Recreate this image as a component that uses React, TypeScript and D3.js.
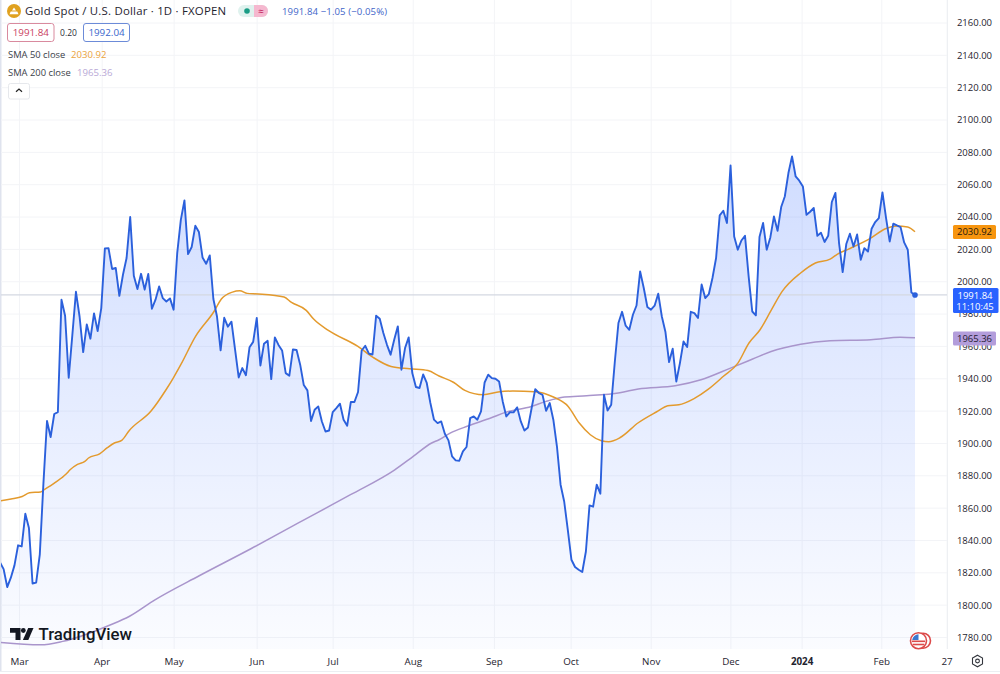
import React from "react";
import * as d3 from "d3";

const closes = [
1826.4,1822.3,1811.2,1817,1824.6,1837,1836.3,1856.5,1847.7,1813.4,1813.9,1831.2,1875,1913.9,1904,1918.2,1919.4,
1988.9,1979,1940.6,1967,1993.8,1978.5,1956.5,1973.6,1964.8,1980.4,1969.5,1983.7,2020.6,2020.8,2007.9,2008.5,1991.3,2004.3,2014.7,2040,
2003.7,1995.5,2004.9,1995.1,2004.8,1983.3,1988.9,1997.1,1989.9,1987.8,1989.7,1982.7,2017.7,2038.3,2050.3,2017.1,2021.5,2034.6,2030.7,2015,2011.1,2016.3,
1989.3,1978.5,1957.6,1977.7,1972.2,1975.3,1958,1940.8,1946.6,1942.2,1959.5,1962.8,1977.6,1948.2,1961.7,1963.5,1939.8,1965.6,1960.9,1957.5,1943.5,1941.9,1958.1,1957.8,1948.7,
1936.1,1932.8,1913.9,1920.8,1922.9,1913.6,1907.4,1908,1919.4,1921.9,1924.6,1914.7,1911,1925.6,1925.6,1931.8,1957.5,1960.4,1955.5,1955,1979,1977.1,1968.3,1961,1954.9,1964.1,1972.4,1945.6,1959,1965.6,
1943.5,1934.9,1934.3,1942.7,1937.4,1925,1914.7,1912.6,1913.6,1906,1901.9,1892,1889.5,1889.3,1895.1,1897.8,1915.7,1916.7,1914.7,1919.8,1937.7,1942.5,1940.4,1940,1938.3,
1926,1916.7,1919.4,1919.2,1922.3,1913.6,1908,1909.9,1921.9,1933.6,1931.2,1930.1,1920.2,1925,1914.7,1898.1,1874.5,1864.1,1846.6,1828.1,1823.6,1821.9,1820.5,
1833.2,1861.7,1860.9,1874.5,1868.9,1930.1,1920.4,1924,1950.5,1974.5,1981.4,1972.8,1970.3,1979.6,1985.3,2006.4,1996.1,1984.4,1982.7,1985.2,1992.6,1978.5,1968.9,1950.3,1958.6,1938.3,1949.7,1963.1,1959.6,
1981.4,1980.6,1977.6,1998.3,1989.9,1992.4,2002.3,2014.7,2041,2043.9,2036.3,2071.9,2028,2019.8,2025.5,2028.4,2003.3,1981.6,1979.2,2027.6,2036.3,2019.8,2027.4,2040.4,2031.5,2046.2,2052.7,2067.2,2077.5,2065.1,2062.5,2058.9,
2041.4,2043.3,2045.6,2028.4,2030.3,2024.6,2028.4,2049.3,2054.9,2023.9,2006,2023.3,2029.7,2021.8,2029.2,2013.6,2020.8,2018.7,2032.8,2036.9,2039.4,2055.2,2039.4,2024.9,2035.9,2034.8,2033.8,2024.3,2019.8,1993.4,1991.84,
];

const sma50Bars = [0,3,6,8,11,12,15,18,19,21,23,24,27,29,31,33,35,41,45,47,49,53,58,60,63,65,67,70,77,79,83,85,89,97,101,106,111,116,119,123,126,131,135,139,145,150,154,157,160,163,165,168,173,178,181,184,188,192,196,200,203,206,209,212,217,221,225,227,230,236,240,243,246,248];
const sma50Values = [1864.4,1865.6,1867.2,1869.5,1870,1871.4,1875.9,1881.3,1883.7,1887,1888.9,1891,1893.6,1897.2,1900.3,1901.9,1907.9,1920.2,1933.2,1940.6,1948.7,1966.2,1981.6,1989.3,1993.6,1994.4,1992.8,1992.4,1990.5,1987.2,1982.3,1976.9,1969.9,1960,1953.4,1947.6,1946.2,1945.1,1941.7,1937.7,1932.8,1930.1,1931.8,1932.4,1932,1928.7,1922.9,1912.6,1905.4,1901.7,1901.1,1903.5,1912.8,1919.6,1923.3,1923.9,1927.6,1933.6,1941.4,1949.7,1962.1,1970.3,1982.3,1994,2005.4,2011.6,2014,2017.1,2020.2,2027,2032.8,2034.4,2033.8,2030.92];

const sma200Bars = [0,11,17,30,35,42,54,68,81,95,107,112,117,119,122,127,133,137,144,148,153,159,168,173,183,190,198,204,209,217,225,236,244,248];
const sma200Values = [1777,1775.5,1777.6,1787.9,1793,1803.3,1818.2,1834.9,1851,1868.3,1883.7,1892,1900.3,1902.3,1906.4,1910.9,1915.7,1919.2,1922.9,1926,1928.7,1929.5,1931.4,1933.7,1935.7,1939.4,1946.6,1952.2,1956.9,1961.4,1963.5,1964.1,1965.7,1965.36];

const priceTicks = d3.range(1780, 2161, 20);
const monthLabels = ["Mar","Apr","May","Jun","Jul","Aug","Sep","Oct","Nov","Dec","2024","Feb","27"];
const monthBars = [5.3,27.7,47.2,69.7,90.3,112,134,154.8,176.5,198.1,217.4,239,256.7];

const lastPrice = 1991.84;
const sma50Last = 2030.92;
const sma200Last = 1965.36;

const UI = "'Open Sans', 'Noto Sans', sans-serif";

export default function App() {
  const y = d3.scaleLinear().domain([1780, 2160]).range([637.5, 23]);
  // closes are one per session; the SMA and tick arrays use a coarser 0..248 time index
  const xBar = d3.scaleLinear().domain([0, closes.length - 1]).range([0, 915]);
  const x = d3.scaleLinear().domain([0, 248]).range([0, 915]);
  const lineXY = d3.line<number>().x((_, i) => xBar(i)).y((d) => y(d));
  const area = d3.area<number>().x((_, i) => xBar(i)).y0(649).y1((d) => y(d));
  const sma50 = d3.line<number>().x((_, i) => x(sma50Bars[i])).y((d) => y(d)).curve(d3.curveMonotoneX);
  const sma200 = d3.line<number>().x((_, i) => x(sma200Bars[i])).y((d) => y(d)).curve(d3.curveMonotoneX);
  const lastX = xBar(closes.length - 1);

  return (
    <svg width={1000} height={674} style={{ position: "absolute", left: 0, top: 0, background: "#fff", fontFamily: UI }}>
      <defs>
        <linearGradient id="fillG" gradientUnits="userSpaceOnUse" x1="0" y1="156" x2="0" y2="649">
          <stop offset="0" stopColor="#2962ff" stopOpacity={0.22} />
          <stop offset="1" stopColor="#2962ff" stopOpacity={0.02} />
        </linearGradient>
        <clipPath id="plot"><rect x={1} y={0} width={946} height={649} /></clipPath>
      </defs>

      {/* frame */}
      <rect x={0} y={0} width={1.5} height={672} fill="#dfe3ee" />
      <line x1={0} x2={1000} y1={671.5} y2={671.5} stroke="#eceef2" />

      {/* grid */}
      {priceTicks.map((t) => (
        <line key={t} x1={1} x2={947} y1={y(t)} y2={y(t)} stroke="#f3f4f7" />
      ))}
      {monthBars.map((b, i) => (
        <line key={i} x1={x(b)} x2={x(b)} y1={0} y2={649} stroke="#f3f4f7" />
      ))}
      <line x1={947.5} x2={947.5} y1={0} y2={649} stroke="#eef0f3" />

      <g clipPath="url(#plot)">
        <path d={area(closes) ?? ""} fill="url(#fillG)" />
        <line x1={1} x2={947} y1={y(lastPrice)} y2={y(lastPrice)} stroke="#d4d8e2" strokeWidth={1.3} />
        <path d={sma200(sma200Values) ?? ""} fill="none" stroke="#a995cc" strokeWidth={1.5} />
        <path d={sma50(sma50Values) ?? ""} fill="none" stroke="#e39a2d" strokeWidth={1.5} />
        <path d={lineXY(closes) ?? ""} fill="none" stroke="#2b60dc" strokeWidth={1.9} strokeLinejoin="round" />
        <circle cx={lastX} cy={y(lastPrice)} r={2.8} fill="#2b60dc" />
      </g>

      {/* price axis */}
      {priceTicks.map((t) => (
        <text key={t} x={992} y={y(t) + 3.4} textAnchor="end" fontSize={9.5} fill="#1f2430">{t.toFixed(2)}</text>
      ))}
      <rect x={953} y={225} width={43} height={14} rx={1.5} fill="#f7950f" />
      <text x={974.5} y={235.4} textAnchor="middle" fontSize={9.5} fill="#1f1a10">{sma50Last.toFixed(2)}</text>
      <rect x={953} y={331.5} width={43} height={14} rx={1.5} fill="#b39ddb" />
      <text x={974.5} y={342} textAnchor="middle" fontSize={9.5} fill="#1f1a30">{sma200Last.toFixed(2)}</text>
      <rect x={953} y={288} width={45.5} height={25} rx={1.5} fill="#2962ff" />
      <text x={975} y={299} textAnchor="middle" fontSize={9.5} fill="#fff">{lastPrice.toFixed(2)}</text>
      <text x={975} y={309.5} textAnchor="middle" fontSize={9.5} fill="#fff">11:10:45</text>

      {/* time axis */}
      {monthLabels.map((m, i) => (
        <text key={m} x={x(monthBars[i])} y={664.5} textAnchor="middle" fontSize={9.8}
          fontWeight={m === "2024" ? 700 : 400} fill="#1f2430">{m}</text>
      ))}

      {/* gear */}
      <path d="M977.5 655.2l5 2.9v5.8l-5 2.9-5-2.9v-5.8z" fill="none" stroke="#33363d" strokeWidth={1.1} />
      <circle cx={977.5} cy={661} r={1.9} fill="none" stroke="#33363d" strokeWidth={1.1} />

      {/* header */}
      <circle cx={14} cy={11} r={7} fill="#e0a11f" />
      <path d="M9.5 14.2h9l-1.2-2.6h-6.6zM12 10.6h4l-2-3z" fill="#fff" />
      <text x={25} y={15.4} fontSize={11.4} fill="#1f2430" letterSpacing={0.22}>Gold Spot / U.S. Dollar · 1D · FXOPEN</text>
      <rect x={238} y={5} width={30} height={12} rx={6} fill="#dff2ee" />
      <path d="M254 5h8a6 6 0 0 1 0 12h-8z" fill="#f5b8cf" />
      <circle cx={247} cy={11} r={2.8} fill="#1a9c85" />
      <text x={261} y={14.5} textAnchor="middle" fontSize={10} fill="#c2185b">≈</text>
      <text x={282} y={14.8} fontSize={9.6} fill="#3f66c9" letterSpacing={0.1}>1991.84 −1.05 (−0.05%)</text>

      <rect x={7.5} y={23.5} width={46.5} height={18} rx={2.5} fill="#fff" stroke="#d98a9e" />
      <text x={30.8} y={36.2} textAnchor="middle" fontSize={9.8} fill="#c9405e">1991.84</text>
      <text x={68.5} y={36} textAnchor="middle" fontSize={8.5} fill="#2a2e39">0.20</text>
      <rect x={83.5} y={23.5} width={46} height={18} rx={2.5} fill="#fff" stroke="#6c8bd8" />
      <text x={106.5} y={36.2} textAnchor="middle" fontSize={9.8} fill="#3a66cc">1992.04</text>

      <text x={8} y={57.8} fontSize={9.4} fill="#3b3f4a">SMA 50 close</text>
      <text x={71} y={57.8} fontSize={9.6} fill="#eba33c">2030.92</text>
      <text x={8} y={76.2} fontSize={9.4} fill="#3b3f4a">SMA 200 close</text>
      <text x={77} y={76.2} fontSize={9.6} fill="#b8a8d6">1965.36</text>
      <rect x={8.5} y={83.5} width={21} height={15.5} rx={2} fill="#fff" stroke="#e6e8ec" />
      <path d="M16 91.8l3-2.8 3 2.8" fill="none" stroke="#222" strokeWidth={1.2} />

      {/* logo */}
      <path d="M10 628h10.5v12h-5v-7.3H10z" fill="#131722" />
      <circle cx={23.3} cy={630.5} r={2.4} fill="#131722" />
      <path d="M28.2 628h5.3l-5.2 12h-5.4z" fill="#131722" />
      <text x={38.5} y={640} fontSize={16.8} fontWeight={500} fontFamily="Roboto, sans-serif" fill="#131722">TradingView</text>

      {/* flag */}
      <circle cx={923} cy={640.7} r={7.5} fill="#fff" stroke="#dc4a4a" strokeWidth={1.6} />
      <circle cx={918.5} cy={640.7} r={8} fill="#fff" stroke="#dc4a4a" strokeWidth={1.6} />
      <g fill="#dc4a4a">
        <rect x={912} y={640.5} width={13} height={1.6} />
        <rect x={912.6} y={643.7} width={11.8} height={1.6} />
      </g>
      <path d="M912.2 640a6.5 6.5 0 0 1 6.3-5.7v5.7z" fill="#3a78d0" />
    </svg>
  );
}
